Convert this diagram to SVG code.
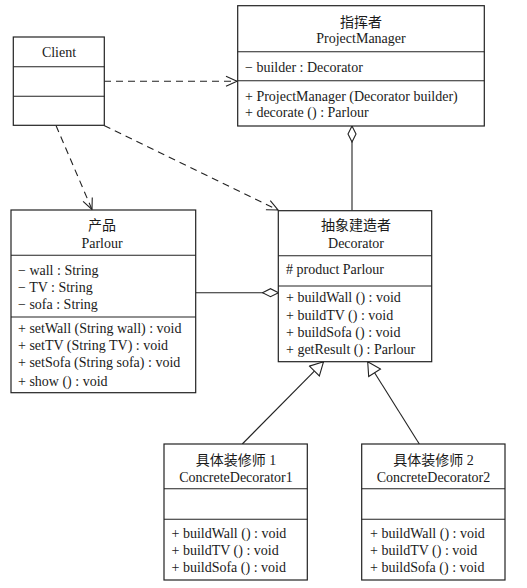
<svg xmlns="http://www.w3.org/2000/svg" width="527" height="588" viewBox="0 0 527 588">
<style>
.box{fill:#fff;stroke:#222;stroke-width:1.2}
.div{stroke:#222;stroke-width:1.1}
text{font-family:"Liberation Serif","Noto Sans CJK SC",serif;font-size:14px;fill:#1a1a1a}
.t{text-anchor:middle}
.dash{fill:none;stroke:#222;stroke-width:1.1;stroke-dasharray:7,5}
.solid{fill:none;stroke:#222;stroke-width:1.1}
</style>
<defs>
<marker id="open" markerWidth="14" markerHeight="12" refX="12" refY="6" orient="auto" markerUnits="userSpaceOnUse">
<path d="M1,1 L12,6 L1,11" fill="none" stroke="#222" stroke-width="1.1"/>
</marker>
<marker id="diamond" markerWidth="18" markerHeight="10" refX="17" refY="5" orient="auto" markerUnits="userSpaceOnUse">
<path d="M1,5 L9,1 L17,5 L9,9 Z" fill="#fff" stroke="#222" stroke-width="1.1"/>
</marker>
<marker id="tri" markerWidth="16" markerHeight="16" refX="14" refY="8" orient="auto" markerUnits="userSpaceOnUse">
<path d="M1,1 L14,8 L1,15 Z" fill="#fff" stroke="#222" stroke-width="1.1"/>
</marker>
</defs>
<g id="connectors">
<line class="dash" x1="104" y1="81.3" x2="237" y2="81.3" marker-end="url(#open)"/>
<line class="dash" x1="56" y1="125.5" x2="92" y2="209.5" marker-end="url(#open)"/>
<line class="dash" x1="104" y1="125.5" x2="278" y2="210" marker-end="url(#open)"/>
<line class="solid" x1="352" y1="210.5" x2="352" y2="126" marker-end="url(#diamond)"/>
<line class="solid" x1="195.5" y1="292.7" x2="278.5" y2="292.7" marker-end="url(#diamond)"/>
<line class="solid" x1="242.3" y1="444" x2="323.5" y2="361.8" marker-end="url(#tri)"/>
<line class="solid" x1="419.3" y1="444" x2="367.7" y2="361.8" marker-end="url(#tri)"/>
</g>
<g id="ProjectManager">
<rect class="box" x="237.7" y="5.7" width="246.6" height="120.3"/>
<line class="div" x1="237.7" y1="51.7" x2="484.3" y2="51.7"/>
<line class="div" x1="237.7" y1="80.7" x2="484.3" y2="80.7"/>
<text class="t" x="361" y="26.5">指挥者</text>
<text class="t" x="361" y="43">ProjectManager</text>
<text x="245" y="72">− builder : Decorator</text>
<text x="245" y="100.5">+ ProjectManager (Decorator builder)</text>
<text x="245" y="116.5">+ decorate () : Parlour</text>
</g>
<g id="Client">
<rect class="box" x="13.3" y="37" width="91" height="88.3"/>
<line class="div" x1="13.3" y1="66.7" x2="104.3" y2="66.7"/>
<line class="div" x1="13.3" y1="96.3" x2="104.3" y2="96.3"/>
<text class="t" x="59" y="57">Client</text>
</g>
<g id="Parlour">
<rect class="box" x="11" y="210" width="184.7" height="182.7"/>
<line class="div" x1="11" y1="255.3" x2="195.7" y2="255.3"/>
<line class="div" x1="11" y1="317" x2="195.7" y2="317"/>
<text class="t" x="102" y="230">产品</text>
<text class="t" x="102" y="247.5">Parlour</text>
<text x="18" y="275">− wall : String</text>
<text x="18" y="292">− TV : String</text>
<text x="18" y="309">− sofa : String</text>
<text x="18" y="332.5">+ setWall (String wall) : void</text>
<text x="18" y="350">+ setTV (String TV) : void</text>
<text x="18" y="367">+ setSofa (String sofa) : void</text>
<text x="18" y="385.5">+ show () : void</text>
</g>
<g id="Decorator">
<rect class="box" x="278.3" y="210.7" width="153.4" height="151"/>
<line class="div" x1="278.3" y1="255.7" x2="431.7" y2="255.7"/>
<line class="div" x1="278.3" y1="286" x2="431.7" y2="286"/>
<text class="t" x="356" y="230">抽象建造者</text>
<text class="t" x="356" y="248">Decorator</text>
<text x="286" y="274"># product Parlour</text>
<text x="286" y="302">+ buildWall () : void</text>
<text x="286" y="319.5">+ buildTV () : void</text>
<text x="286" y="336.5">+ buildSofa () : void</text>
<text x="286" y="353.5">+ getResult () : Parlour</text>
</g>
<g id="ConcreteDecorator1">
<rect class="box" x="164" y="444" width="143.3" height="136"/>
<line class="div" x1="164" y1="488.7" x2="307.3" y2="488.7"/>
<line class="div" x1="164" y1="519.3" x2="307.3" y2="519.3"/>
<text class="t" x="236" y="464.5">具体装修师 1</text>
<text class="t" x="236" y="481.5">ConcreteDecorator1</text>
<text x="171.5" y="538">+ buildWall () : void</text>
<text x="171.5" y="555">+ buildTV () : void</text>
<text x="171.5" y="572">+ buildSofa () : void</text>
</g>
<g id="ConcreteDecorator2">
<rect class="box" x="361.7" y="444" width="143.3" height="136"/>
<line class="div" x1="361.7" y1="488.7" x2="505" y2="488.7"/>
<line class="div" x1="361.7" y1="519.3" x2="505" y2="519.3"/>
<text class="t" x="433.5" y="464.5">具体装修师 2</text>
<text class="t" x="433.5" y="481.5">ConcreteDecorator2</text>
<text x="370" y="538">+ buildWall () : void</text>
<text x="370" y="555">+ buildTV () : void</text>
<text x="370" y="572">+ buildSofa () : void</text>
</g>
</svg>
